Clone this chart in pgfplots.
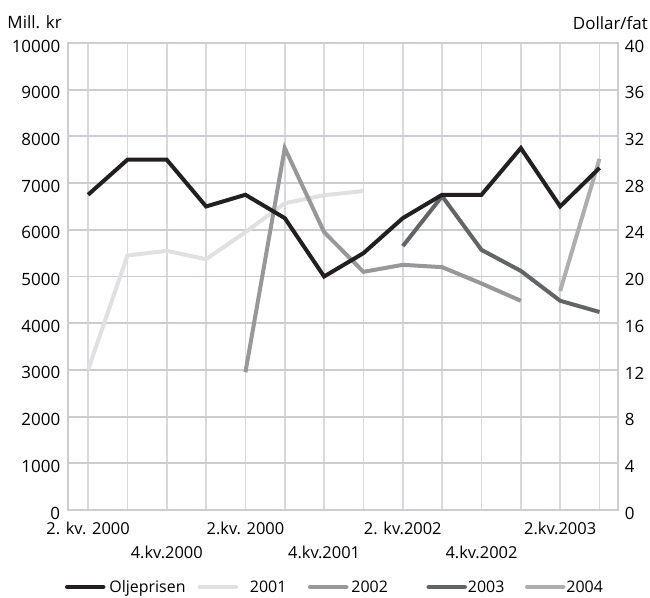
\documentclass[border=0pt]{standalone}
\usepackage{fontspec}
\setmainfont{Open Sans}
\usepackage{pgfplots}
\pgfplotsset{compat=1.18}
\definecolor{oil}{HTML}{231F20}
\definecolor{c2001}{HTML}{E0E0E2}
\definecolor{c2002}{HTML}{98989B}
\definecolor{c2003}{HTML}{636466}
\definecolor{c2004}{HTML}{AEAEB0}
\definecolor{gridh}{HTML}{CBCCD4}
\definecolor{gridv}{HTML}{D8D9DE}
\begin{document}
\begin{tikzpicture}[font=\fontsize{17}{20}\selectfont]
\path[use as bounding box] (-68bp,-88bp) rectangle (582bp,510bp);
\begin{axis}[
  name=main,
  scale only axis, width=550bp, height=467bp,
  xmin=-0.51, xmax=13.47, ymin=0, ymax=10000,
  xtick={0,...,13},
  xticklabels={{\strut 2. kv. 2000\\\strut},{},{\strut\\4.kv.2000},{},{\strut 2.kv. 2000\\\strut},{},{\strut\\4.kv.2001},{},{\strut 2. kv.2002\\\strut},{},{\strut\\4.kv.2002},{},{\strut 2.kv.2003\\\strut},{}},
  xticklabel style={align=center, font=\fontsize{16.5}{24}\selectfont, yshift=-4.5bp},
  ytick={0,1000,...,10000},
  yticklabel style={xshift=-4.3bp, yshift=-3bp},
  grid=major,
  x grid style={gridv, line width=1.8bp},
  y grid style={gridh, line width=1.8bp},
  axis line style={gridh, line width=1.8bp},
  major tick length=0pt,
  scaled y ticks=false,
  /pgf/number format/1000 sep={},
  /pgf/number format/assume math mode=true,
]
\addplot[c2001, line width=4bp, line join=miter] coordinates {(0,3000) (1,5450) (2,5550) (3,5370) (4,5950) (5,6570) (6,6740) (7,6830)};
\addplot[c2002, line width=4bp, line join=miter] coordinates {(4,2950) (5,7750) (6,5950) (7,5100) (8,5250) (9,5200) (10,4850) (11,4480)};
\addplot[c2003, line width=4bp, line join=miter] coordinates {(8,5650) (9,6720) (10,5570) (11,5120) (12,4480) (13,4240)};
\addplot[c2004, line width=4bp, line join=miter] coordinates {(12,4690) (13,7520)};
\end{axis}
\begin{axis}[
  scale only axis, width=550bp, height=467bp,
  xmin=-0.51, xmax=13.47, ymin=0, ymax=40,
  axis y line*=right, hide x axis,
  axis line style={draw=none},
  ytick={0,4,...,40},
  yticklabel style={xshift=3.3bp, yshift=-3bp},
  major tick length=0pt,
  /pgf/number format/assume math mode=true,
  legend style={draw=none, fill=none, at={(-0.0055,-0.1649)}, anchor=west,
    inner sep=0pt, outer sep=0pt,
    legend columns=5, font=\fontsize{16}{19}\selectfont,
    /tikz/column sep=0pt,
    nodes={inner sep=0pt, outer sep=0pt}},
  legend cell align=left,
  legend image code/.code={\draw[#1, line width=4.5bp, line cap=round] (1.5bp,0) -- (37.5bp,0);},
]
\addplot[oil, line width=4bp, line join=miter] coordinates {(0,27) (1,30) (2,30) (3,26) (4,27) (5,25) (6,20) (7,22) (8,25) (9,27) (10,27) (11,31) (12,26) (13,29.3)};
\addlegendentry{\makebox[92bp][l]{\hspace*{4bp}Oljeprisen}}
\addlegendimage{c2001}\addlegendentry{\makebox[70bp][l]{\hspace*{12bp}2001}}
\addlegendimage{c2002}\addlegendentry{\makebox[78bp][l]{\hspace*{3bp}2002}}
\addlegendimage{c2003}\addlegendentry{\makebox[58bp][l]{\hspace*{1bp}2003}}
\addlegendimage{c2004}\addlegendentry{\hspace*{1bp}2004}
\end{axis}
\node[anchor=base east, inner sep=0pt] at ([xshift=-6bp, yshift=14bp]main.north west) {Mill. kr};
\node[anchor=base east, inner sep=0pt] at ([xshift=30bp, yshift=13bp]main.north east) {Dollar/fat};
\end{tikzpicture}
\end{document}
